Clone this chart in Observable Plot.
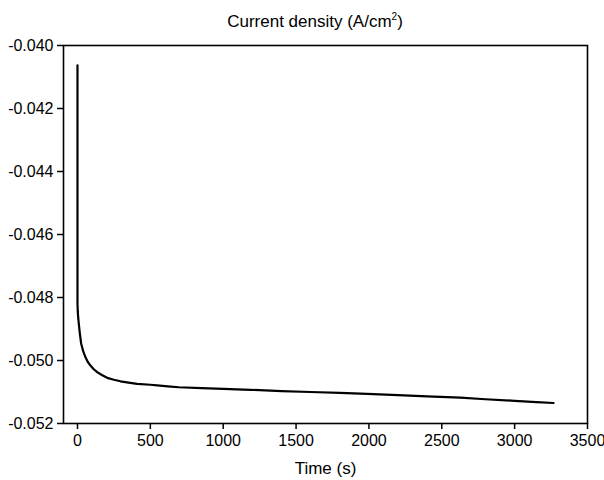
<!DOCTYPE html>
<html>
<head>
<meta charset="utf-8">
<script src="https://cdn.jsdelivr.net/npm/d3@7"></script>
<script src="https://cdn.jsdelivr.net/npm/@observablehq/plot@0.6"></script>
<style>
  body { margin: 0; background: #fff; font-family: "Liberation Sans", Arial, sans-serif; }
  #wrap { width: 604px; }
  #title { height: 30px; font-size: 17px; color: #000; position: relative; }
  #title span { position: absolute; left: 315px; transform: translateX(-50%); top: 12px; line-height: 20px; white-space: nowrap; }
  sup { font-size: 10px; vertical-align: 7px; line-height: 0; }
</style>
</head>
<body>
<div id="wrap">
  <div id="title"><span>Current density (A/cm<sup>2</sup>)</span></div>
  <div id="chart"></div>
</div>
<script>
const times = [0, 0, 2, 5, 9, 15, 25, 40, 55, 70, 89, 110, 135, 170, 204, 250, 295, 350, 409, 500, 547, 620, 695, 850, 1000, 1187, 1400, 1600, 1800, 1987, 2200, 2400, 2627, 2800, 3000, 3150, 3267];
const currents = [-0.04063, -0.04820, -0.04845, -0.04865, -0.04883, -0.04910, -0.04946, -0.04972, -0.04990, -0.05004, -0.05016, -0.05027, -0.05037, -0.05047, -0.05055, -0.05061, -0.05066, -0.05070, -0.05074, -0.05077, -0.05079, -0.05082, -0.05085, -0.05088, -0.05090, -0.05093, -0.05097, -0.05100, -0.05103, -0.05106, -0.05110, -0.05114, -0.05118, -0.05123, -0.05128, -0.05132, -0.05135];
const xTicks = [0, 500, 1000, 1500, 2000, 2500, 3000, 3500];
const yTicks = [-0.052, -0.050, -0.048, -0.046, -0.044, -0.042, -0.040];

const data = times.map((t, i) => ({t, v: currents[i]}));

const chart = Plot.plot({
  width: 604,
  height: 450,
  marginTop: 15,
  marginBottom: 57,
  marginLeft: 63,
  marginRight: 17,
  style: {fontFamily: '"Liberation Sans", Arial, sans-serif', fontSize: "16px", color: "#000", background: "#fff", overflow: "visible"},
  x: {domain: [-96, 3500], ticks: xTicks, tickFormat: d => String(d), label: null},
  y: {domain: [-0.052, -0.040], ticks: yTicks, tickFormat: d => d.toFixed(3), label: null},
  marks: [
    Plot.frame({stroke: "#000", strokeWidth: 1.6}),
    Plot.axisY({ticks: yTicks, tickFormat: d => d.toFixed(3), tickSize: 6, tickPadding: 4, strokeWidth: 1.5, label: null, fontSize: 16}),
    Plot.axisX({ticks: xTicks, tickFormat: d => String(d), tickSize: 6, tickPadding: 5, strokeWidth: 1.5, label: null, fontSize: 16}),
    Plot.axisX({ticks: [], tickSize: 0, label: "Time (s)", labelAnchor: "center", labelArrow: "none", labelOffset: 50, fontSize: 17})
  ].concat([
    Plot.line(data, {x: "t", y: "v", stroke: "#000", strokeWidth: 2.2})
  ])
});
document.getElementById("chart").appendChild(chart);
</script>
</body>
</html>
